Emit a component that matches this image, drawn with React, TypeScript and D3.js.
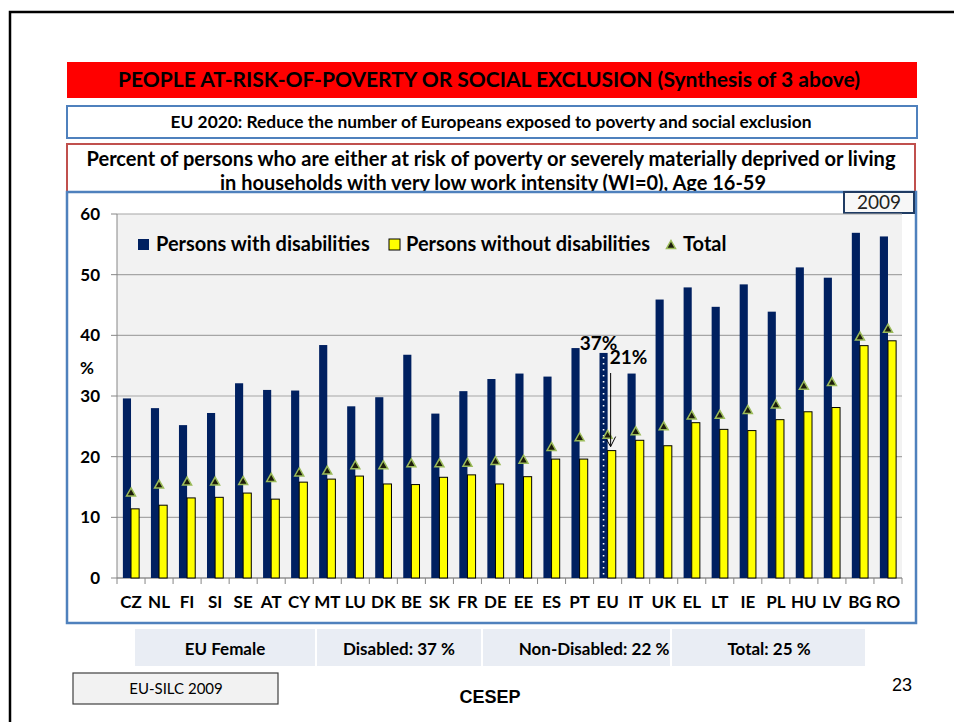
import React from "react";
import * as d3 from "d3";

const countries = ["CZ", "NL", "FI", "SI", "SE", "AT", "CY", "MT", "LU", "DK", "BE", "SK", "FR", "DE", "EE", "ES", "PT", "EU", "IT", "UK", "EL", "LT", "IE", "PL", "HU", "LV", "BG", "RO"];
const withDisab = [29.6, 28.0, 25.2, 27.2, 32.1, 31.0, 30.9, 38.4, 28.3, 29.8, 36.8, 27.1, 30.8, 32.8, 33.7, 33.2, 37.9, 37.1, 33.7, 45.9, 47.9, 44.7, 48.4, 43.9, 51.2, 49.5, 56.9, 56.3];
const withoutDisab = [11.4, 12.0, 13.2, 13.3, 14.0, 13.0, 15.8, 16.3, 16.8, 15.5, 15.4, 16.6, 17.0, 15.5, 16.7, 19.6, 19.6, 21.0, 22.7, 21.8, 25.6, 24.5, 24.3, 26.1, 27.4, 28.1, 38.3, 39.1];
const total = [14.1, 15.4, 15.9, 15.9, 16.0, 16.5, 17.4, 17.7, 18.6, 18.6, 18.9, 18.9, 19.0, 19.3, 19.5, 21.6, 23.2, 23.6, 24.2, 25.0, 26.8, 26.9, 27.7, 28.6, 31.7, 32.3, 39.8, 41.1];
const yTicks = [0, 10, 20, 30, 40, 50, 60];
const seriesNames = ["Persons with disabilities", "Persons without disabilities", "Total"];
const summaryCells = ["EU Female", "Disabled: 37 %", "Non-Disabled: 22 %", "Total: 25 %"];

const W = 954;
const H = 722;
const plot = { left: 117, right: 902, top: 214, bottom: 578 };
const NAVY = "#002060";
const YELLOW = "#ffff00";
const calibri = "Lato, Carlito, 'Open Sans', sans-serif";
const arial = "'Liberation Sans', Arial, sans-serif";

const Triangle = ({ x, y }: { x: number; y: number }) => (
  <path
    d={`M${x},${y - 4.5} L${x + 4.5},${y + 3.5} L${x - 4.5},${y + 3.5} Z`}
    fill="#1c1c0c"
    stroke="#9bbb59"
    strokeWidth={1.5}
  />
);

const App = () => {
  const x = d3.scaleBand<string>().domain(countries).range([plot.left, plot.right]);
  const y = d3.scaleLinear().domain([0, 60]).range([plot.bottom, plot.top]);
  const bw = x.bandwidth() * 0.29;
  const mid = (c: string) => (x(c) as number) + x.bandwidth() / 2;

  const euMid = mid("EU");
  const cellEdges = [135, 317, 483, 672, 867];
  const cellTextX = [225, 399, 594, 769];

  return (
    <svg width={W} height={H} style={{ position: "absolute", left: 0, top: 0 }}>
      <rect width={W} height={H} fill="#fff" />
      {/* slide frame */}
      <rect x={10} y={12} width={1000} height={800} fill="none" stroke="#000" strokeWidth={2.5} />

      {/* headline banner */}
      <rect x={67} y={62} width={850} height={36} fill="#ff0000" />
      <text x={489} y={87} textAnchor="middle" fontFamily={calibri} fontWeight="bold" fontSize={21}
        textLength={742} lengthAdjust="spacingAndGlyphs">
        PEOPLE AT-RISK-OF-POVERTY OR SOCIAL EXCLUSION (Synthesis of 3 above)
      </text>

      <rect x={67} y={106} width={850} height={32} fill="#fff" stroke="#4f81bd" strokeWidth={2} />
      <text x={491} y={128} textAnchor="middle" fontFamily={calibri} fontWeight="bold" fontSize={17}
        textLength={641} lengthAdjust="spacingAndGlyphs">
        EU 2020: Reduce the number of Europeans exposed to poverty and social exclusion
      </text>

      <rect x={67} y={144} width={848} height={60} fill="#fff" stroke="#c0504d" strokeWidth={2} />
      <text x={491} y={166} textAnchor="middle" fontFamily={calibri} fontWeight="bold" fontSize={20}
        textLength={809} lengthAdjust="spacingAndGlyphs">
        Percent of persons who are either at risk of poverty or severely materially deprived or living
      </text>
      <text x={493} y={190} textAnchor="middle" fontFamily={calibri} fontWeight="bold" fontSize={20}
        textLength={546} lengthAdjust="spacingAndGlyphs">
        in households with very low work intensity (WI=0), Age 16-59
      </text>

      {/* chart frame */}
      <rect x={67} y={192} width={849} height={431} fill="#fff" stroke="#4f81bd" strokeWidth={2.5} />
      <rect x={844} y={192} width={70} height={21} fill="#f7f7f7" stroke="#1f3b63" strokeWidth={2} />
      <text x={879} y={209} textAnchor="middle" fontFamily={calibri} fontSize={19} fill="#222">2009</text>

      {/* plot area */}
      <rect x={plot.left} y={plot.top} width={plot.right - plot.left} height={plot.bottom - plot.top} fill="#f2f2f2" />
      {yTicks.map((t) => (
        <g key={t}>
          <line x1={plot.left} x2={plot.right} y1={y(t)} y2={y(t)} stroke="#a6a6a6" strokeWidth={1.2} />
          <line x1={plot.left - 6} x2={plot.left} y1={y(t)} y2={y(t)} stroke="#868686" />
          <text x={100} y={y(t) + 6} textAnchor="end" fontFamily={calibri} fontWeight="bold" fontSize={17}>{t}</text>
        </g>
      ))}
      <line x1={plot.left} x2={plot.left} y1={plot.top} y2={plot.bottom} stroke="#868686" />
      <line x1={plot.left} x2={plot.right} y1={plot.bottom} y2={plot.bottom} stroke="#868686" />
      {countries.map((c) => (
        <line key={c} x1={x(c)} x2={x(c)} y1={plot.bottom} y2={plot.bottom + 6} stroke="#868686" />
      ))}
      <line x1={plot.right} x2={plot.right} y1={plot.bottom} y2={plot.bottom + 6} stroke="#868686" />
      <text x={80} y={374} fontFamily={calibri} fontWeight="bold" fontSize={17}>%</text>

      {/* bars */}
      {countries.map((c, i) => (
        <g key={c}>
          <rect x={mid(c) - bw} y={y(withDisab[i])} width={bw} height={y(0) - y(withDisab[i])} fill={NAVY} />
          <rect x={mid(c)} y={y(withoutDisab[i])} width={bw} height={y(0) - y(withoutDisab[i])}
            fill={YELLOW} stroke="#000" strokeWidth={1} />
        </g>
      ))}
      <line x1={euMid - bw / 2} x2={euMid - bw / 2} y1={y(withDisab[17]) + 4} y2={y(0)}
        stroke="#fff" strokeWidth={1.6} strokeDasharray="1.6 4.4" />
      {countries.map((c, i) => (
        <Triangle key={c} x={mid(c)} y={y(total[i])} />
      ))}

      {/* x labels */}
      {countries.map((c) => (
        <text key={c} x={mid(c)} y={608} textAnchor="middle" fontFamily={calibri} fontWeight="bold" fontSize={17}>{c}</text>
      ))}

      {/* EU annotation */}
      <text x={euMid - 9} y={350} textAnchor="middle" fontFamily={calibri} fontWeight="bold" fontSize={19}>37%</text>
      <text x={euMid + 2} y={364} fontFamily={calibri} fontWeight="bold" fontSize={19}>21%</text>
      <line x1={euMid + 3} x2={euMid + 3} y1={373} y2={y(withoutDisab[17]) - 4} stroke="#000" strokeWidth={1} />
      <path d={`M${euMid - 1},${y(withoutDisab[17]) - 11} L${euMid + 3},${y(withoutDisab[17]) - 4} L${euMid + 8},${y(withoutDisab[17]) - 14}`}
        fill="none" stroke="#000" strokeWidth={1} />

      {/* legend */}
      <rect x={138} y={239} width={11} height={11} fill={NAVY} />
      <text x={156} y={251} fontFamily={calibri} fontWeight="bold" fontSize={20}>{seriesNames[0]}</text>
      <rect x={389} y={239} width={11} height={11} fill={YELLOW} stroke="#000" strokeWidth={1} />
      <text x={406} y={251} fontFamily={calibri} fontWeight="bold" fontSize={20}>{seriesNames[1]}</text>
      <Triangle x={671} y={245} />
      <text x={683} y={251} fontFamily={calibri} fontWeight="bold" fontSize={20}>{seriesNames[2]}</text>

      {/* summary row */}
      {summaryCells.map((s, i) => (
        <g key={s}>
          <rect x={cellEdges[i]} y={629} width={cellEdges[i + 1] - cellEdges[i] - 2} height={37} fill="#e9edf4" />
          <text x={cellTextX[i]} y={655} textAnchor="middle" fontFamily={calibri} fontWeight="bold" fontSize={17}>{s}</text>
        </g>
      ))}

      {/* footer */}
      <rect x={73} y={673} width={205} height={31} fill="#f2f2f2" stroke="#404040" strokeWidth={1.2} />
      <text x={176} y={694} textAnchor="middle" fontFamily={calibri} fontSize={15}>EU-SILC 2009</text>
      <text x={490} y={703} textAnchor="middle" fontFamily={arial} fontWeight="bold" fontSize={18}>CESEP</text>
      <text x={902} y={691} textAnchor="middle" fontFamily={arial} fontSize={18}>23</text>
    </svg>
  );
};

export default App;
